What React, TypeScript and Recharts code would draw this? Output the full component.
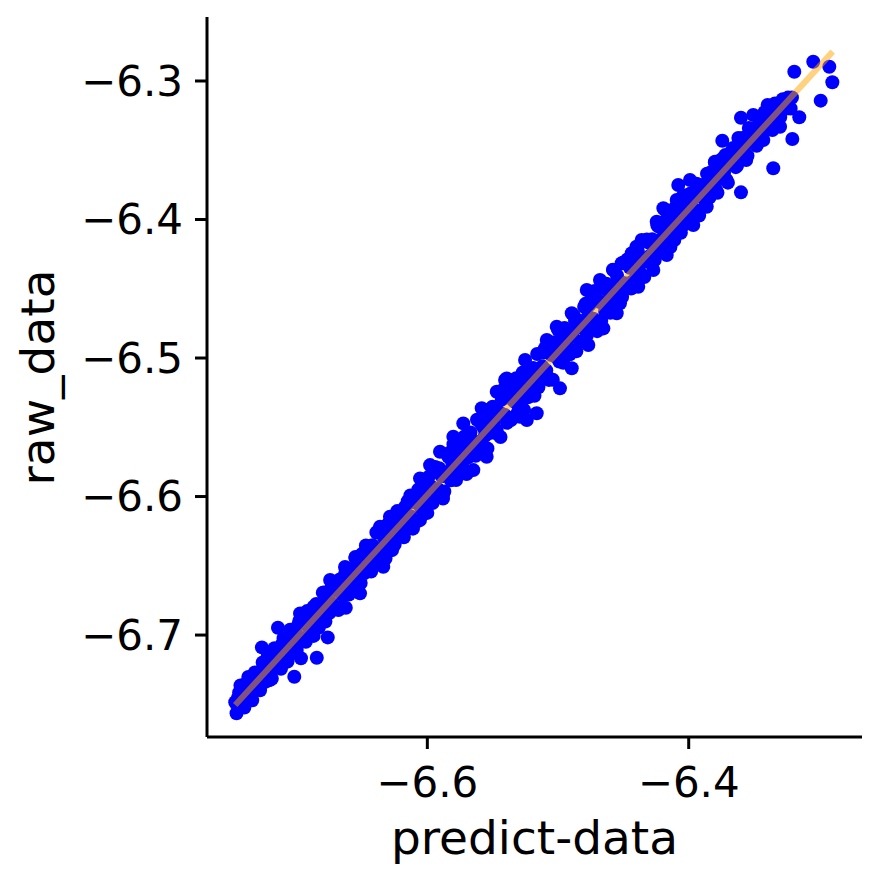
import React from "react";
import { ScatterChart, Scatter, XAxis, YAxis, Label } from "recharts";

// axis ticks
const xTicks = [-6.6, -6.4];
const yTicks = [-6.7, -6.6, -6.5, -6.4, -6.3];

// [predict, raw] pairs, lower-left part of the cloud
const lowerBand: [number, number][] = [
  [-6.747, -6.7485], [-6.745, -6.7514], [-6.744, -6.7414], [-6.742, -6.7513],
  [-6.741, -6.7433], [-6.739, -6.7352], [-6.738, -6.7452], [-6.736, -6.7352],
  [-6.735, -6.7461], [-6.733, -6.7361], [-6.732, -6.727], [-6.73, -6.738],
  [-6.729, -6.7269], [-6.727, -6.7319], [-6.726, -6.7198], [-6.724, -6.7338],
  [-6.723, -6.7227], [-6.721, -6.7327], [-6.72, -6.7166], [-6.718, -6.7236],
  [-6.717, -6.7095], [-6.715, -6.7235], [-6.714, -6.7144], [-6.712, -6.7244],
  [-6.711, -6.7063], [-6.709, -6.7123], [-6.708, -6.7183], [-6.706, -6.7032],
  [-6.705, -6.6962], [-6.703, -6.7101], [-6.702, -6.7031], [-6.7, -6.711],
  [-6.699, -6.693], [-6.697, -6.7019],
  [-6.746, -6.7565], [-6.743, -6.7364], [-6.74, -6.7523], [-6.737, -6.7302],
  [-6.734, -6.7471], [-6.731, -6.732], [-6.728, -6.7399], [-6.725, -6.7268],
  [-6.722, -6.7147], [-6.719, -6.7316], [-6.716, -6.7145], [-6.713, -6.7194],
  [-6.71, -6.7023], [-6.707, -6.7192], [-6.704, -6.7031], [-6.701, -6.713],
  [-6.698, -6.6899],
  [-6.695, -6.6908], [-6.693, -6.7048], [-6.692, -6.6827], [-6.69, -6.6957],
  [-6.688, -6.6866], [-6.687, -6.7006], [-6.685, -6.6775], [-6.683, -6.6915],
  [-6.682, -6.6824], [-6.68, -6.6694], [-6.678, -6.6903], [-6.677, -6.6733],
  [-6.675, -6.6782], [-6.673, -6.6641], [-6.672, -6.6811], [-6.67, -6.667],
  [-6.668, -6.682], [-6.667, -6.6599], [-6.665, -6.6709], [-6.663, -6.6508],
  [-6.662, -6.6628], [-6.66, -6.6707], [-6.658, -6.6527], [-6.657, -6.6606],
  [-6.655, -6.6446], [-6.653, -6.6655], [-6.652, -6.6495], [-6.65, -6.6414],
  [-6.648, -6.6553], [-6.647, -6.6353], [-6.645, -6.6472], [-6.643, -6.6542],
  [-6.642, -6.6351], [-6.64, -6.6391], [-6.638, -6.647], [-6.637, -6.624],
  [-6.635, -6.6399], [-6.633, -6.6289], [-6.632, -6.6448], [-6.63, -6.6198],
  [-6.628, -6.6287], [-6.627, -6.6207], [-6.625, -6.6346], [-6.623, -6.6105],
  [-6.622, -6.6275], [-6.62, -6.6174], [-6.618, -6.6294], [-6.617, -6.6073],
  [-6.615, -6.6173], [-6.613, -6.5992], [-6.612, -6.6192], [-6.61, -6.6041],
  [-6.608, -6.6181], [-6.607, -6.595], [-6.605, -6.604], [-6.603, -6.6089],
  [-6.602, -6.5929], [-6.6, -6.6118], [-6.598, -6.5927],
];

// middle part of the cloud
const middleBand: [number, number][] = [
  [-6.596, -6.6047], [-6.594, -6.5786], [-6.592, -6.5945], [-6.59, -6.5815],
  [-6.588, -6.6014], [-6.586, -6.5824], [-6.584, -6.5713], [-6.582, -6.5882],
  [-6.58, -6.5622], [-6.578, -6.5881], [-6.576, -6.569], [-6.574, -6.574],
  [-6.572, -6.5569], [-6.57, -6.5838], [-6.568, -6.5578], [-6.566, -6.5697],
  [-6.564, -6.5606], [-6.562, -6.5446], [-6.56, -6.5685], [-6.558, -6.5455],
  [-6.556, -6.5564], [-6.554, -6.5653], [-6.552, -6.5433], [-6.55, -6.5352],
  [-6.548, -6.5541], [-6.546, -6.5401], [-6.544, -6.557], [-6.542, -6.5229],
  [-6.54, -6.5419], [-6.538, -6.5258], [-6.536, -6.5448], [-6.534, -6.5307],
  [-6.532, -6.5146], [-6.53, -6.5346], [-6.528, -6.5195], [-6.526, -6.5374],
  [-6.524, -6.5094], [-6.522, -6.5203], [-6.52, -6.5092], [-6.518, -6.5272],
  [-6.516, -6.4971], [-6.514, -6.517], [-6.512, -6.506], [-6.51, -6.4929],
  [-6.508, -6.5139], [-6.506, -6.4938], [-6.504, -6.5157], [-6.502, -6.4937],
  [-6.5, -6.4796], [-6.498, -6.4975], [-6.496, -6.5035], [-6.494, -6.4794],
  [-6.492, -6.4863], [-6.49, -6.4943], [-6.488, -6.4692], [-6.486, -6.4952],
  [-6.484, -6.4731], [-6.482, -6.478], [-6.48, -6.463], [-6.478, -6.4839],
  [-6.476, -6.4618], [-6.474, -6.4748], [-6.472, -6.4517], [-6.47, -6.4806],
  [-6.468, -6.4596], [-6.466, -6.4495], [-6.464, -6.4664], [-6.462, -6.4494],
  [-6.46, -6.4673], [-6.458, -6.4363], [-6.456, -6.4532], [-6.454, -6.4431],
  [-6.452, -6.4561], [-6.45, -6.431], [-6.448, -6.4469],
];

// upper-right part of the cloud
const upperBand: [number, number][] = [
  [-6.446, -6.4309], [-6.444, -6.4498], [-6.442, -6.4317], [-6.44, -6.4197],
  [-6.438, -6.4376], [-6.436, -6.4286], [-6.434, -6.4415], [-6.432, -6.4144],
  [-6.43, -6.4264], [-6.428, -6.4143], [-6.426, -6.4292], [-6.424, -6.4042],
  [-6.422, -6.4161], [-6.42, -6.421], [-6.418, -6.401], [-6.416, -6.4059],
  [-6.414, -6.4198], [-6.412, -6.3928], [-6.41, -6.4077], [-6.408, -6.3947],
  [-6.406, -6.4096], [-6.404, -6.3825], [-6.402, -6.3945], [-6.4, -6.4014],
  [-6.398, -6.3823], [-6.396, -6.3923], [-6.394, -6.3742], [-6.392, -6.3971],
  [-6.39, -6.3771], [-6.388, -6.382], [-6.386, -6.367], [-6.384, -6.3839],
  [-6.382, -6.3708], [-6.38, -6.3588], [-6.378, -6.3807], [-6.376, -6.3606],
  [-6.374, -6.3706], [-6.372, -6.3535], [-6.37, -6.3734], [-6.368, -6.3574],
  [-6.366, -6.3483], [-6.364, -6.3622], [-6.362, -6.3412], [-6.36, -6.3541],
  [-6.358, -6.3431], [-6.356, -6.357], [-6.354, -6.3339], [-6.352, -6.3439],
  [-6.35, -6.3368], [-6.348, -6.3467],
  [-6.346, -6.3307], [-6.344, -6.3396], [-6.342, -6.3225], [-6.34, -6.3325],
  [-6.338, -6.3244], [-6.336, -6.3354], [-6.334, -6.3163], [-6.332, -6.3222],
  [-6.33, -6.3262], [-6.328, -6.3131], [-6.326, -6.319], [-6.324, -6.312],
  [-6.322, -6.3199],
];

// points lying close to the fitted line, all along it
const centerBand: [number, number][] = [
  [-6.745, -6.7454], [-6.741, -6.7483], [-6.737, -6.7392], [-6.733, -6.7381],
  [-6.729, -6.7269], [-6.725, -6.7328], [-6.721, -6.7237], [-6.717, -6.7155],
  [-6.713, -6.7184], [-6.709, -6.7093], [-6.705, -6.7082], [-6.701, -6.699],
  [-6.697, -6.7039], [-6.693, -6.6918], [-6.689, -6.6926], [-6.685, -6.6815],
  [-6.681, -6.6864], [-6.677, -6.6773], [-6.673, -6.6771], [-6.669, -6.668],
  [-6.665, -6.6709], [-6.661, -6.6578], [-6.657, -6.6576], [-6.653, -6.6555],
  [-6.649, -6.6444], [-6.645, -6.6492], [-6.641, -6.6391], [-6.637, -6.638],
  [-6.633, -6.6299], [-6.629, -6.6337], [-6.625, -6.6206], [-6.621, -6.6235],
  [-6.617, -6.6153], [-6.613, -6.6142], [-6.609, -6.6031], [-6.605, -6.608],
  [-6.601, -6.5998], [-6.597, -6.5927], [-6.593, -6.5966], [-6.589, -6.5854],
  [-6.585, -6.5843], [-6.581, -6.5752], [-6.577, -6.5781], [-6.573, -6.5659],
  [-6.569, -6.5718], [-6.565, -6.5617], [-6.561, -6.5606], [-6.557, -6.5504],
  [-6.553, -6.5543], [-6.549, -6.5462], [-6.545, -6.539], [-6.541, -6.5409],
  [-6.537, -6.5288], [-6.533, -6.5317], [-6.529, -6.5235], [-6.525, -6.5264],
  [-6.521, -6.5133], [-6.517, -6.5141], [-6.513, -6.508], [-6.509, -6.5089],
  [-6.505, -6.4978], [-6.501, -6.4996], [-6.497, -6.4875], [-6.493, -6.4934],
  [-6.489, -6.4842], [-6.485, -6.4761], [-6.481, -6.478], [-6.477, -6.4699],
  [-6.473, -6.4717], [-6.469, -6.4586], [-6.465, -6.4605], [-6.461, -6.4524],
  [-6.457, -6.4562], [-6.453, -6.4461], [-6.449, -6.446], [-6.445, -6.4348],
  [-6.441, -6.4367], [-6.437, -6.4286], [-6.433, -6.4305], [-6.429, -6.4173],
  [-6.425, -6.4232], [-6.421, -6.4141], [-6.417, -6.4069], [-6.413, -6.4088],
  [-6.409, -6.4007], [-6.405, -6.3996], [-6.401, -6.3894], [-6.397, -6.3933],
  [-6.393, -6.3832], [-6.389, -6.382], [-6.385, -6.3719], [-6.381, -6.3778],
  [-6.377, -6.3657], [-6.373, -6.3665], [-6.369, -6.3594], [-6.365, -6.3593],
  [-6.361, -6.3482], [-6.357, -6.352], [-6.353, -6.3439], [-6.349, -6.3378],
  [-6.345, -6.3386], [-6.341, -6.3285], [-6.337, -6.3294], [-6.333, -6.3223],
  [-6.329, -6.3221], [-6.325, -6.313], [-6.321, -6.3119],
];

// points along both edges of the band
const edgeBand: [number, number][] = [
  [-6.687, -6.6796], [-6.683, -6.6945], [-6.679, -6.6693], [-6.675, -6.6842],
  [-6.671, -6.6621], [-6.667, -6.6799], [-6.663, -6.6558], [-6.659, -6.6687],
  [-6.655, -6.6436], [-6.651, -6.6624], [-6.647, -6.6383], [-6.643, -6.6512],
  [-6.639, -6.626], [-6.635, -6.6449], [-6.631, -6.6208], [-6.627, -6.6387],
  [-6.623, -6.6145], [-6.619, -6.6274], [-6.615, -6.6033], [-6.611, -6.6232],
  [-6.607, -6.597], [-6.603, -6.6119], [-6.599, -6.5858], [-6.595, -6.6016],
  [-6.591, -6.5795], [-6.587, -6.5964], [-6.583, -6.5683], [-6.579, -6.5861],
  [-6.575, -6.565], [-6.571, -6.5809], [-6.567, -6.5537], [-6.563, -6.5706],
  [-6.559, -6.5475], [-6.555, -6.5654], [-6.551, -6.5362], [-6.547, -6.5521],
  [-6.543, -6.53], [-6.539, -6.5468], [-6.535, -6.5227], [-6.531, -6.5396],
  [-6.527, -6.5105], [-6.523, -6.5283], [-6.519, -6.5072], [-6.515, -6.5211],
  [-6.511, -6.496], [-6.507, -6.5158], [-6.503, -6.4887], [-6.499, -6.5026],
  [-6.495, -6.4784], [-6.491, -6.4973], [-6.487, -6.4732], [-6.483, -6.4881],
  [-6.479, -6.4609], [-6.475, -6.4788], [-6.471, -6.4577], [-6.467, -6.4735],
  [-6.463, -6.4464], [-6.459, -6.4633], [-6.455, -6.4402], [-6.451, -6.456],
  [-6.447, -6.4289], [-6.443, -6.4448], [-6.439, -6.4226], [-6.435, -6.4405],
  [-6.431, -6.4164], [-6.427, -6.4293], [-6.423, -6.4051], [-6.419, -6.422],
  [-6.415, -6.3989], [-6.411, -6.4148], [-6.407, -6.3876], [-6.403, -6.4035],
  [-6.399, -6.3814], [-6.395, -6.3962], [-6.391, -6.3751], [-6.387, -6.389],
  [-6.383, -6.3659], [-6.379, -6.3787], [-6.375, -6.3566], [-6.371, -6.3715],
  [-6.367, -6.3503], [-6.363, -6.3612], [-6.359, -6.3411], [-6.355, -6.354],
  [-6.351, -6.3348], [-6.347, -6.3447],
];

// points that stand off the band
const outliers: [number, number][] = [
  [-6.7266, -6.7089], [-6.7143, -6.6947], [-6.6967, -6.7168], [-6.7018, -6.7301],
  [-6.6846, -6.7164], [-6.6974, -6.6844],
  [-6.6624, -6.6803], [-6.6515, -6.6699], [-6.6762, -6.7017], [-6.6744, -6.6603],
  [-6.6337, -6.6507], [-6.6362, -6.6218], [-6.6286, -6.6146], [-6.6056, -6.5869],
  [-6.5979, -6.5773], [-6.6056, -6.617],
  [-6.5584, -6.5363], [-6.5469, -6.5243], [-6.5393, -6.5147], [-6.5546, -6.5713],
  [-6.5648, -6.5809], [-6.5239, -6.5448], [-6.5163, -6.5399], [-6.5291, -6.5424],
  [-6.501, -6.4774], [-6.4895, -6.4677], [-6.4755, -6.4521], [-6.5086, -6.487],
  [-6.5252, -6.5014], [-6.5405, -6.5159], [-6.5725, -6.5472], [-6.5801, -6.5568],
  [-6.5903, -6.5677], [-6.4985, -6.5219], [-6.4895, -6.5074], [-6.4768, -6.4906],
  [-6.4653, -6.4786], [-6.4551, -6.4677], [-6.5878, -6.5977], [-6.4679, -6.4437],
  [-6.4577, -6.4365], [-6.478, -6.4509],
  [-6.4513, -6.4316], [-6.4436, -6.4244], [-6.436, -6.4148], [-6.4245, -6.4016],
  [-6.4181, -6.3931], [-6.4092, -6.3859], [-6.408, -6.3751], [-6.399, -6.3715],
  [-6.4194, -6.3919], [-6.3799, -6.3583], [-6.3743, -6.3431], [-6.36, -6.3265],
  [-6.3506, -6.3245], [-6.4386, -6.4485], [-6.4271, -6.4365], [-6.4168, -6.4256],
  [-6.4436, -6.4485], [-6.4526, -6.4605], [-6.3965, -6.404], [-6.3862, -6.3908],
  [-6.36, -6.3804],
  [-6.3396, -6.3173], [-6.3301, -6.3161], [-6.3238, -6.3197], [-6.3192, -6.2933],
  [-6.3047, -6.2861], [-6.2924, -6.2897], [-6.2901, -6.3009], [-6.299, -6.3142],
  [-6.3207, -6.3419], [-6.3353, -6.363], [-6.3154, -6.3262], [-6.3301, -6.333],
  [-6.3556, -6.3547], [-6.3429, -6.3426],
];

// fitted line end points
const fitPredict = [-6.747, -6.2898];
const fitRaw = [-6.7505, -6.2788];

const FONT = "DejaVu Sans";

const minusFormat = (v: number) =>
  (v < 0 ? "\u2212" : "") + Math.abs(v).toFixed(1);

const Dot = (props: any) => (
  <circle cx={props.cx} cy={props.cy} r={7} fill="#0000FF" />
);

const NoDot = () => <g />;

export default function App() {
  const points = [
    ...lowerBand,
    ...middleBand,
    ...upperBand,
    ...centerBand,
    ...edgeBand,
    ...outliers,
  ].map(([x, y]) => ({ x, y }));
  const fit = fitPredict.map((x, i) => ({ x, y: fitRaw[i] }));

  return (
    <ScatterChart
      width={873}
      height={874}
      margin={{ top: 9, right: 19, bottom: 85, left: 0 }}
    >
      <XAxis
        type="number"
        dataKey="x"
        domain={[-6.7686, -6.2674]}
        allowDataOverflow
        ticks={xTicks}
        interval={0}
        tickFormatter={minusFormat}
        height={60}
        tickSize={12}
        tickMargin={18}
        axisLine={{ stroke: "#000", strokeWidth: 3 }}
        tickLine={{ stroke: "#000", strokeWidth: 3 }}
        tick={{ fill: "#000", fontSize: 42, fontFamily: FONT }}
      >
        <Label
          content={() => (
            <text
              x={526.5}
              y={846}
              textAnchor="middle"
              fontSize={47}
              fontFamily={FONT}
              fill="#000"
            >
              predict-data
            </text>
          )}
        />
      </XAxis>
      <YAxis
        type="number"
        dataKey="y"
        domain={[-6.7736, -6.2538]}
        allowDataOverflow
        ticks={yTicks}
        interval={0}
        tickFormatter={minusFormat}
        width={199}
        tickSize={12}
        tickMargin={12}
        axisLine={{ stroke: "#000", strokeWidth: 3 }}
        tickLine={{ stroke: "#000", strokeWidth: 3 }}
        tick={{ fill: "#000", fontSize: 42, fontFamily: FONT }}
      >
        <Label
          content={() => (
            <text
              x={46}
              y={369.5}
              transform="rotate(-90, 46, 369.5)"
              textAnchor="middle"
              fontSize={47}
              fontFamily={FONT}
              fill="#000"
            >
              raw_data
            </text>
          )}
        />
      </YAxis>
      <Scatter
        data={points}
        shape={Dot}
        fill="#0000FF"
        isAnimationActive={false}
      />
      <Scatter
        data={fit}
        shape={NoDot}
        line={{ stroke: "rgba(255,165,0,0.5)", strokeWidth: 6 }}
        isAnimationActive={false}
      />
    </ScatterChart>
  );
}
